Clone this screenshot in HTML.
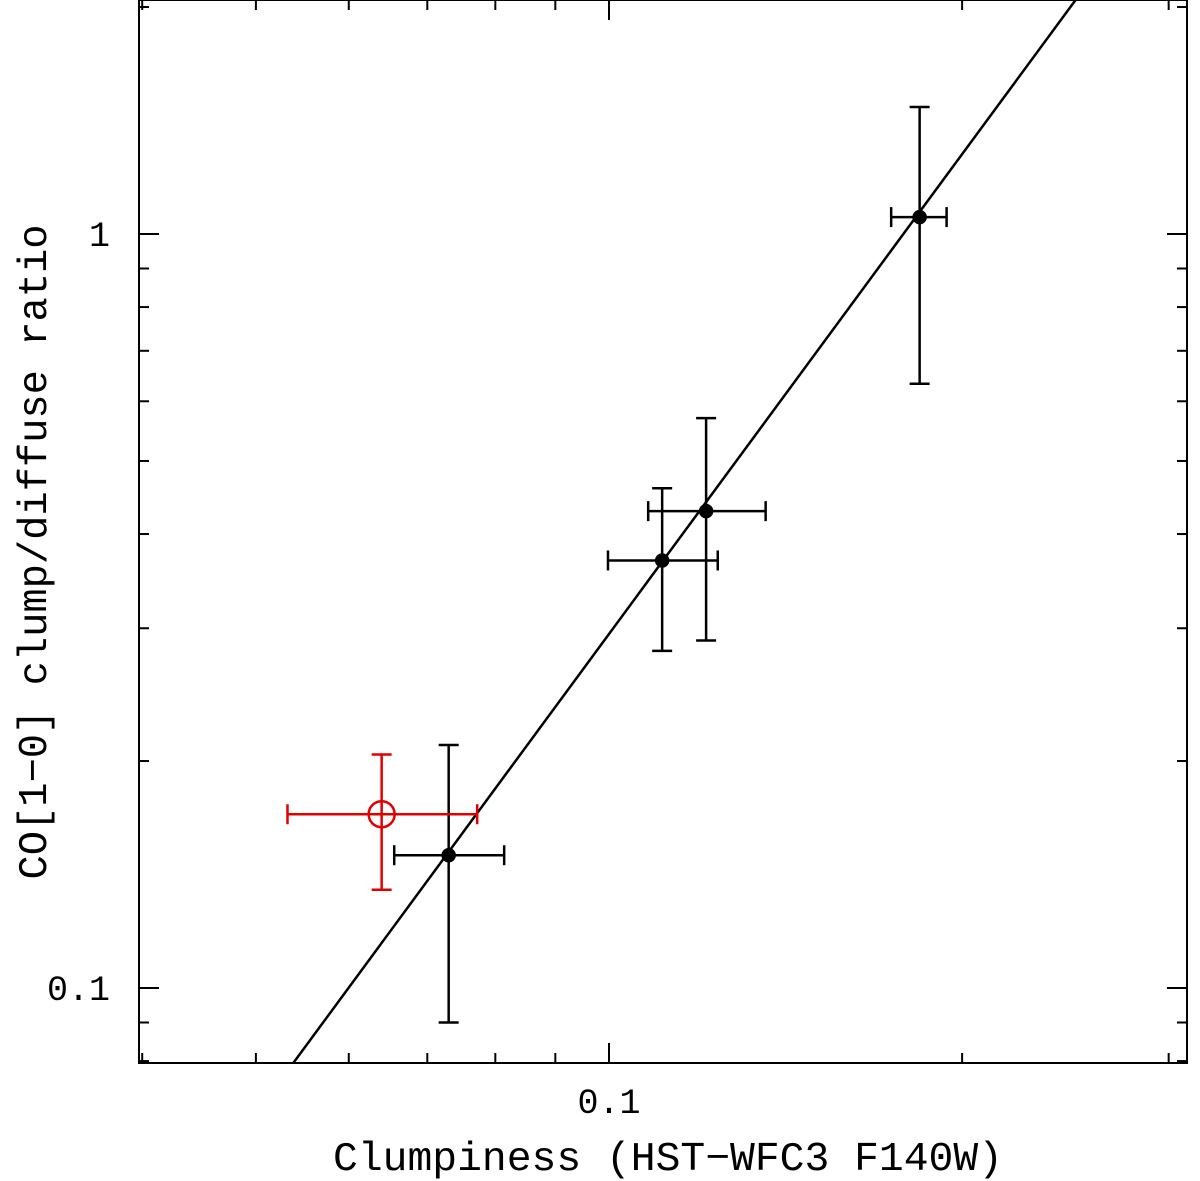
<!DOCTYPE html>
<html><head><meta charset="utf-8"><style>
html,body{margin:0;background:#fff;overflow:hidden;width:1200px;height:1181px}
svg{display:block}
svg text{font-family:"Liberation Mono",monospace;fill:#000}
</style></head><body>
<svg id="chart" width="1200" height="1181" viewBox="0 0 1200 1181" xmlns="http://www.w3.org/2000/svg">
<rect x="139" y="0" width="1048" height="1063" fill="none" stroke="#000" stroke-width="2"/>
<g id="ticks"></g>
<g id="marks"></g>
<text x="609" y="1113" text-anchor="middle" font-size="35">0.1</text>
<text x="110" y="246" text-anchor="end" font-size="35">1</text>
<text x="110" y="1000" text-anchor="end" font-size="35">0.1</text>
<text x="668" y="1170" text-anchor="middle" font-size="41" textLength="670" lengthAdjust="spacingAndGlyphs">Clumpiness (HST−WFC3 F140W)</text>
<text transform="translate(46,552) rotate(-90)" text-anchor="middle" font-size="41" textLength="655" lengthAdjust="spacingAndGlyphs">CO[1−0] clump/diffuse ratio</text>
</svg>
<script>
const xVals=[0.0730,0.1110,0.1210,0.184];
const xLo=[0.0656,0.0998,0.108,0.174];
const xHi=[0.0814,0.1238,0.136,0.194];
const yVals=[0.150,0.369,0.429,1.053];
const yLo=[0.09,0.28,0.289,0.633];
const yHi=[0.21,0.46,0.570,1.474];
const redX=[0.0640], redXLo=[0.0532], redXHi=[0.0772];
const redY=[0.170], redYLo=[0.135], redYHi=[0.204];
const fitSlope=2.114, fitX0=0.0538, fitY0=0.0795;
const xTicks=[0.04,0.05,0.06,0.07,0.08,0.09,0.1,0.2,0.3];
const yTicks=[0.08,0.09,0.1,0.2,0.3,0.4,0.5,0.6,0.7,0.8,0.9,1,2];

const L=139,R=1187,T=0,B=1063;
const X=v=>609+1173*Math.log10(v/0.1);
const Y=v=>234-754*Math.log10(v);
const NS="http://www.w3.org/2000/svg";
function mk(p,tag,a){const e=document.createElementNS(NS,tag);for(const k in a)e.setAttribute(k,a[k]);p.appendChild(e);return e;}
const tg=document.getElementById('ticks'), mg=document.getElementById('marks');
xTicks.forEach(v=>{const x=X(v);if(x<L||x>R)return;const len=(v===0.1)?20:10;
 let e=mk(tg,'line',{x1:x,x2:x,y1:B,y2:B-len,stroke:'#000','stroke-width':2});
 
 e=mk(tg,'line',{x1:x,x2:x,y1:T,y2:T+len,stroke:'#000','stroke-width':2});
 });
yTicks.forEach(v=>{const y=Y(v);if(y<T||y>B)return;const len=(v===0.1||v===1)?20:10;
 let e=mk(tg,'line',{x1:L,x2:L+len,y1:y,y2:y,stroke:'#000','stroke-width':2});
 
 e=mk(tg,'line',{x1:R,x2:R-len,y1:y,y2:y,stroke:'#000','stroke-width':2});
 });
const fx1=fitX0*0.5, fx2=fitX0*8;
const fy=x=>fitY0*Math.pow(x/fitX0,fitSlope);
const cp=mk(document.getElementById('chart'),'clipPath',{id:'clip'});mk(cp,'rect',{x:L,y:T,width:R-L,height:B-T});
let fl=mk(mg,'line',{x1:X(fx1),y1:Y(fy(fx1)),x2:X(fx2),y2:Y(fy(fx2)),stroke:'#000','stroke-width':2.5,'clip-path':'url(#clip)'});


function errbar(x,xl,xh,y,yl,yh,col,name){
 const g=mk(mg,'g',{stroke:col,'stroke-width':2.5,fill:'none'});
 
 
 const cx=X(x),cy=Y(y),c=10;
 mk(g,'line',{x1:X(xl),x2:X(xh),y1:cy,y2:cy});
 mk(g,'line',{x1:X(xl),x2:X(xl),y1:cy-c,y2:cy+c});
 mk(g,'line',{x1:X(xh),x2:X(xh),y1:cy-c,y2:cy+c});
 mk(g,'line',{x1:cx,x2:cx,y1:Y(yl),y2:Y(yh)});
 mk(g,'line',{x1:cx-c,x2:cx+c,y1:Y(yl),y2:Y(yl)});
 mk(g,'line',{x1:cx-c,x2:cx+c,y1:Y(yh),y2:Y(yh)});
 return g;}
xVals.forEach((v,i)=>{const g=errbar(v,xLo[i],xHi[i],yVals[i],yLo[i],yHi[i],'#000','data-point-'+i);
 mk(g,'circle',{cx:X(v),cy:Y(yVals[i]),r:6,fill:'#000'});});
redX.forEach((v,i)=>{const g=errbar(v,redXLo[i],redXHi[i],redY[i],redYLo[i],redYHi[i],'#e00000','red-point-'+i);
 mk(g,'circle',{cx:X(v),cy:Y(redY[i]),r:13,fill:'none'});});
</script>
</body></html>
